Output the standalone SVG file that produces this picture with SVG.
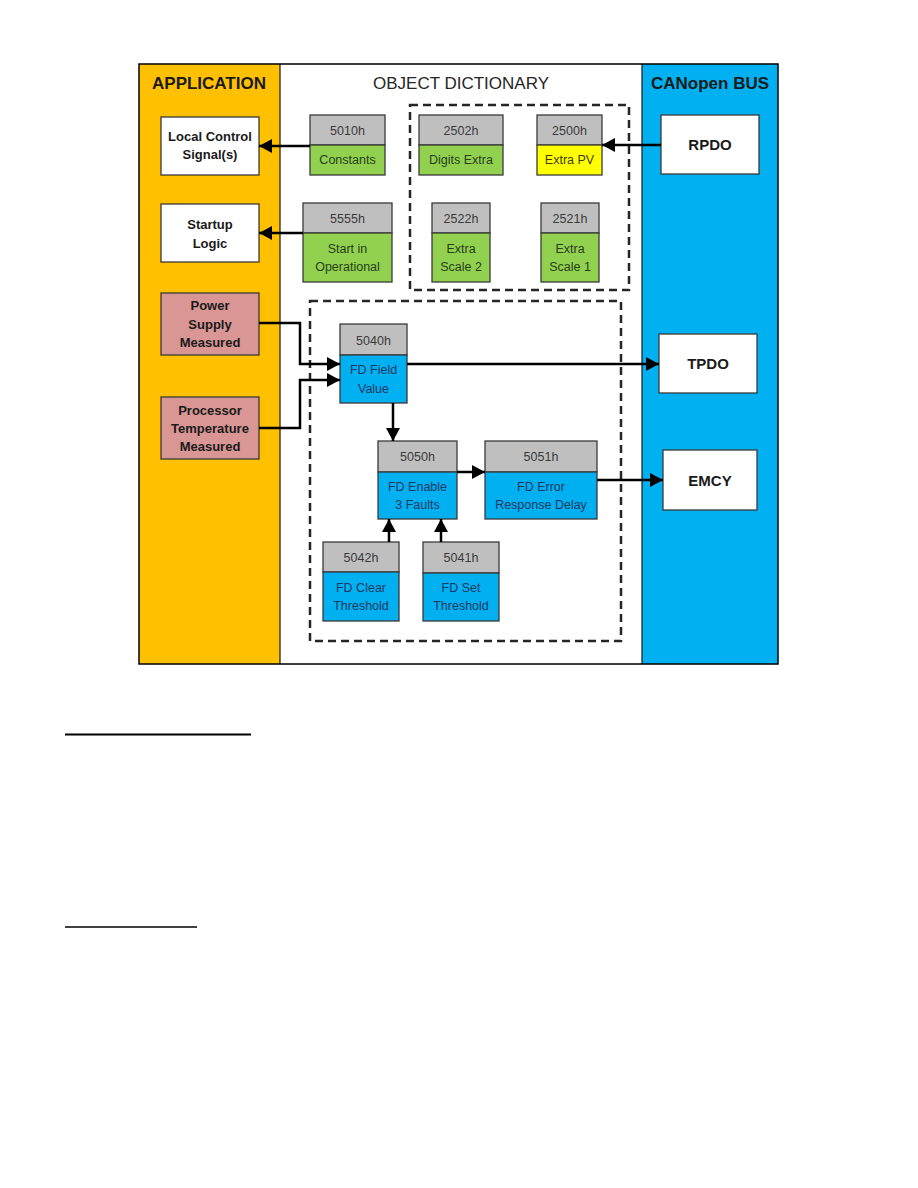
<svg xmlns="http://www.w3.org/2000/svg" width="918" height="1188" viewBox="0 0 918 1188">
<style>
text{font-family:"Liberation Sans",Arial,sans-serif;text-anchor:middle}
.title{font-size:17px;font-weight:bold;fill:#1a1a1a}
.titlen{font-size:17px;fill:#262626}
.bold{font-size:13px;font-weight:bold;fill:#1a1a1a}
.bus{font-size:15px;font-weight:bold;fill:#1a1a1a}
.hd{font-size:12.5px;fill:#3a3a3a}
.gt{font-size:12.5px;fill:#27401a}
.bt{font-size:12.5px;fill:#1f3864}
.yt{font-size:12.5px;fill:#3d3d00}
.box{stroke:#3a3a3a;stroke-width:1.3}
.hdr{fill:#bfbfbf;stroke:#3a3a3a;stroke-width:1.3}
.grn{fill:#92d050;stroke:#3a3a3a;stroke-width:1.3}
.blu{fill:#00b0f0;stroke:#3a3a3a;stroke-width:1.3}
.yel{fill:#ffff00;stroke:#3a3a3a;stroke-width:1.3}
.wht{fill:#ffffff;stroke:#3a3a3a;stroke-width:1.3}
.pnk{fill:#d99694;stroke:#3a3a3a;stroke-width:1.3}
.dash{fill:none;stroke:#262626;stroke-width:2.5;stroke-dasharray:8 5}
.conn{fill:none;stroke:#000;stroke-width:2.5;marker-end:url(#arr)}
.ul{stroke:#000}
</style>
<defs>
<marker id="arr" markerUnits="userSpaceOnUse" markerWidth="14" markerHeight="14" refX="13" refY="7" orient="auto">
<path d="M0,0 L13,7 L0,14 z" fill="#000"/>
</marker>
</defs>
<rect width="918" height="1188" fill="#ffffff"/>

<g id="columns">
<rect x="139" y="64" width="141" height="600" fill="#ffc000"/>
<rect x="280" y="64" width="362" height="600" fill="#ffffff"/>
<rect x="642" y="64" width="136" height="600" fill="#00b0f0"/>
<line x1="280" y1="64" x2="280" y2="664" stroke="#262626" stroke-width="1.3"/>
<line x1="642" y1="64" x2="642" y2="664" stroke="#262626" stroke-width="1.3"/>
<rect x="139" y="64" width="639" height="600" fill="none" stroke="#000" stroke-width="1.5"/>
<text class="title" x="209" y="89">APPLICATION</text>
<text class="titlen" x="461" y="89">OBJECT DICTIONARY</text>
<text class="title" x="710" y="89">CANopen BUS</text>
</g>

<g id="groups">
<rect class="dash" x="410" y="105" width="219" height="185"/>
<rect class="dash" x="310" y="301" width="311" height="340"/>
</g>

<g id="local-control">
<rect class="wht" x="161" y="117" width="98" height="58"/>
<text class="bold" x="210" y="141">Local Control</text>
<text class="bold" x="210" y="159">Signal(s)</text>
</g>
<g id="startup-logic">
<rect class="wht" x="161" y="204" width="98" height="58"/>
<text class="bold" x="210" y="229">Startup</text>
<text class="bold" x="210" y="248">Logic</text>
</g>
<g id="power-supply">
<rect class="pnk" x="161" y="293" width="98" height="62"/>
<text class="bold" x="210" y="310">Power</text>
<text class="bold" x="210" y="328.5">Supply</text>
<text class="bold" x="210" y="346.5">Measured</text>
</g>
<g id="processor-temp">
<rect class="pnk" x="161" y="397" width="98" height="62"/>
<text class="bold" x="210" y="415">Processor</text>
<text class="bold" x="210" y="433">Temperature</text>
<text class="bold" x="210" y="451">Measured</text>
</g>

<g id="n5010h">
<rect class="hdr" x="310" y="115" width="75" height="30"/>
<rect class="grn" x="310" y="145" width="75" height="30"/>
<text class="hd" x="347.5" y="135">5010h</text>
<text class="gt" x="347.5" y="164">Constants</text>
</g>
<g id="n5555h">
<rect class="hdr" x="303" y="203" width="89" height="30"/>
<rect class="grn" x="303" y="233" width="89" height="49"/>
<text class="hd" x="347.5" y="222.5">5555h</text>
<text class="gt" x="347.5" y="253">Start in</text>
<text class="gt" x="347.5" y="271">Operational</text>
</g>
<g id="n2502h">
<rect class="hdr" x="419" y="115" width="84" height="30"/>
<rect class="grn" x="419" y="145" width="84" height="30"/>
<text class="hd" x="461" y="135">2502h</text>
<text class="gt" x="461" y="164">Digits Extra</text>
</g>
<g id="n2500h">
<rect class="hdr" x="537" y="115" width="65" height="30"/>
<rect class="yel" x="537" y="145" width="65" height="30"/>
<text class="hd" x="569.5" y="135">2500h</text>
<text class="yt" x="569.5" y="164">Extra PV</text>
</g>
<g id="n2522h">
<rect class="hdr" x="432" y="203" width="58" height="30"/>
<rect class="grn" x="432" y="233" width="58" height="49"/>
<text class="hd" x="461" y="222.5">2522h</text>
<text class="gt" x="461" y="253">Extra</text>
<text class="gt" x="461" y="271">Scale 2</text>
</g>
<g id="n2521h">
<rect class="hdr" x="541" y="203" width="58" height="30"/>
<rect class="grn" x="541" y="233" width="58" height="49"/>
<text class="hd" x="570" y="222.5">2521h</text>
<text class="gt" x="570" y="253">Extra</text>
<text class="gt" x="570" y="271">Scale 1</text>
</g>
<g id="n5040h">
<rect class="hdr" x="340" y="324" width="67" height="31"/>
<rect class="blu" x="340" y="355" width="67" height="48"/>
<text class="hd" x="373.5" y="345">5040h</text>
<text class="bt" x="373.5" y="374">FD Field</text>
<text class="bt" x="373.5" y="392.5">Value</text>
</g>
<g id="n5050h">
<rect class="hdr" x="378" y="441" width="79" height="31"/>
<rect class="blu" x="378" y="472" width="79" height="47"/>
<text class="hd" x="417.5" y="461">5050h</text>
<text class="bt" x="417.5" y="491">FD Enable</text>
<text class="bt" x="417.5" y="509">3 Faults</text>
</g>
<g id="n5051h">
<rect class="hdr" x="485" y="441" width="112" height="31"/>
<rect class="blu" x="485" y="472" width="112" height="47"/>
<text class="hd" x="541" y="461">5051h</text>
<text class="bt" x="541" y="491">FD Error</text>
<text class="bt" x="541" y="509">Response Delay</text>
</g>
<g id="n5042h">
<rect class="hdr" x="323" y="542" width="76" height="30"/>
<rect class="blu" x="323" y="572" width="76" height="49"/>
<text class="hd" x="361" y="561.5">5042h</text>
<text class="bt" x="361" y="591.5">FD Clear</text>
<text class="bt" x="361" y="610">Threshold</text>
</g>
<g id="n5041h">
<rect class="hdr" x="423" y="542" width="76" height="31"/>
<rect class="blu" x="423" y="573" width="76" height="48"/>
<text class="hd" x="461" y="561.5">5041h</text>
<text class="bt" x="461" y="591.5">FD Set</text>
<text class="bt" x="461" y="610">Threshold</text>
</g>

<g id="rpdo">
<rect class="wht" x="661" y="115" width="98" height="59"/>
<text class="bus" x="710" y="150">RPDO</text>
</g>
<g id="tpdo">
<rect class="wht" x="659" y="334" width="98" height="59"/>
<text class="bus" x="708" y="369">TPDO</text>
</g>
<g id="emcy">
<rect class="wht" x="663" y="450" width="94" height="60"/>
<text class="bus" x="710" y="486">EMCY</text>
</g>

<g id="connectors">
<path class="conn" d="M310,146 L259,146"/>
<path class="conn" d="M303,233 L259,233"/>
<path class="conn" d="M661,145 L602,145"/>
<path class="conn" d="M259,323 L300,323 L300,364 L340,364"/>
<path class="conn" d="M259,428 L300,428 L300,380 L340,380"/>
<path class="conn" d="M407,364 L659,364"/>
<path class="conn" d="M393,403 L393,441"/>
<path class="conn" d="M457,472 L485,472"/>
<path class="conn" d="M597,480 L663,480"/>
<path class="conn" d="M389,542 L389,519"/>
<path class="conn" d="M441,542 L441,519"/>
</g>

<g id="underlines">
<line class="ul" x1="65" y1="734.5" x2="251" y2="734.5" stroke-width="2"/>
<line class="ul" x1="65" y1="927" x2="197" y2="927" stroke-width="1.5"/>
</g>
</svg>
